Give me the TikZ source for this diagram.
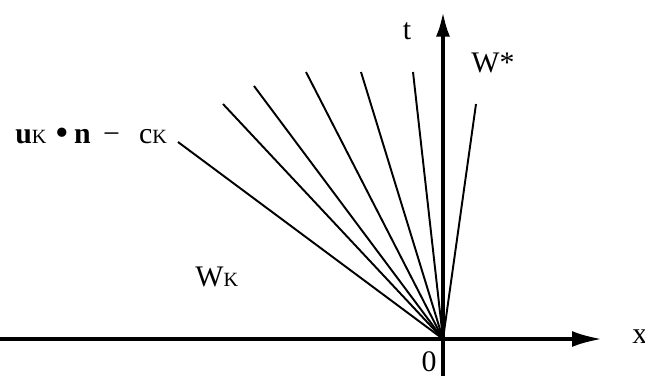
\documentclass[tikz,border=0pt]{standalone}
\usepackage{fontspec}
\setmainfont{Liberation Serif}
\usetikzlibrary{arrows.meta,positioning}
\newcommand{\smk}{{\fontsize{11.5}{13}\selectfont K}}
\newcommand{\bigdot}{{\fontsize{22}{22}\selectfont •}}

\begin{document}
\begin{tikzpicture}[x=0.02cm, y=-0.02cm,
    axis/.style={line width=2pt},
    ray/.style={line width=1.1pt},
    lbl/.style={font=\fontsize{17}{20}\selectfont, inner sep=0pt}]

\useasboundingbox (0,0) rectangle (645,376);

\coordinate (o) at (443,339);
\coordinate (xl) at (0,339);
\coordinate (xr) at (602,339);
\coordinate (tb) at (443,376);
\coordinate (tt) at (443,12);

\draw[axis,-{Latex[length=17pt,width=9pt]}] (xl) -- (xr);
\draw[axis,-{Latex[length=14pt,width=8pt]}] (tb) -- (tt);

\node[lbl, anchor=base west] (xlab) at (632,343) {x};
\node[lbl, anchor=base] (zero) at (429,371) {0};
\node[lbl, anchor=base] (tlab) at (407,39) {t};
\node[lbl, anchor=base west] (wstar) at (471,72) {W*};
\node[lbl, anchor=base west] (wk) at (195,286) {W\smk};
\node[lbl, anchor=base west] (wave) at (15,143)
    {\textbf{u}\smk\hspace{5pt}\raisebox{-1.5pt}{\bigdot}\hspace{3pt}\textbf{n}\hspace{7pt}−\hspace{11pt}c\smk};

% fan of characteristics
\coordinate (r1) at (178,142);
\coordinate (r2) at (223,104);
\coordinate (r3) at (254,86);
\coordinate (r4) at (306,72);
\coordinate (r5) at (361,72);
\coordinate (r6) at (413,72);
\coordinate (r7) at (476,104);

\draw[ray] (o) -- (r1);
\draw[ray] (o) -- (r2);
\draw[ray] (o) -- (r3);
\draw[ray] (o) -- (r4);
\draw[ray] (o) -- (r5);
\draw[ray] (o) -- (r6);
\draw[ray] (o) -- (r7);

\end{tikzpicture}
\end{document}
